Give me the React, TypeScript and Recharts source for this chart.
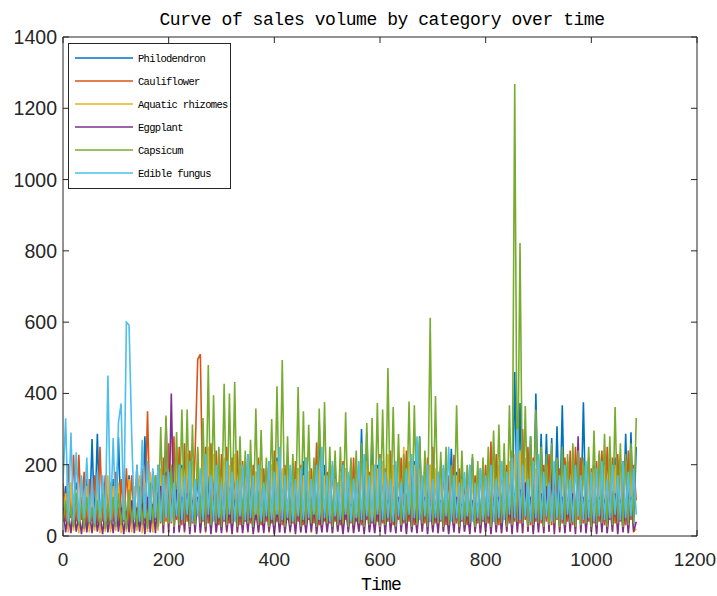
import React from "react";
import { LineChart, Line, XAxis, YAxis } from "recharts";

// one sample every 5 days, t = 0 .. 1085
const STEP = 5;

const philodendron = [
  60, 140, 20, 120, 30, 150, 25, 110, 20, 160, 30, 272, 25, 287, 25, 150, 30, 140, 20, 160,
  30, 277, 25, 150, 30, 170, 20, 140, 25, 160, 35, 280, 25, 150, 30, 170, 20, 140, 30, 180,
  25, 190, 30, 160, 20, 200, 35, 170, 25, 210, 30, 180, 25, 200, 30, 170, 20, 190, 30, 160,
  25, 210, 30, 180, 20, 190, 35, 170, 25, 200, 30, 160, 20, 180, 30, 170, 25, 190, 30, 200,
  25, 220, 30, 180, 20, 200, 35, 170, 25, 190, 30, 210, 20, 180, 30, 170, 25, 320, 30, 200,
  25, 180, 30, 200, 20, 170, 35, 190, 25, 210, 30, 180, 20, 300, 30, 290, 25, 290, 30, 200,
  30, 190, 25, 210, 30, 180, 20, 200, 35, 170, 25, 190, 30, 210, 20, 280, 30, 190, 25, 200,
  30, 180, 25, 200, 30, 190, 20, 245, 35, 180, 25, 200, 30, 170, 20, 220, 30, 180, 25, 200,
  30, 190, 25, 210, 30, 180, 20, 200, 35, 190, 25, 460, 30, 373, 30, 210, 25, 280, 30, 400,
  30, 287, 25, 287, 30, 275, 20, 308, 30, 367, 25, 210, 30, 190, 20, 200, 35, 375, 25, 220,
  30, 200, 25, 230, 30, 210, 20, 190, 35, 220, 25, 200, 30, 287, 25, 291, 30, 250,
];

const cauliflower = [
  150, 40, 200, 50, 228, 40, 228, 45, 180, 30, 160, 40, 170, 35, 250, 40, 170, 35, 150, 40,
  180, 35, 160, 40, 190, 30, 170, 45, 200, 35, 190, 40, 350, 30, 180, 45, 200, 35, 220, 40,
  260, 35, 280, 45, 250, 30, 260, 40, 240, 35, 230, 495, 510, 40, 250, 35, 260, 45, 240, 30,
  230, 40, 250, 35, 220, 45, 240, 30, 210, 40, 230, 35, 200, 45, 220, 30, 190, 40, 210, 35,
  240, 40, 220, 30, 200, 45, 190, 35, 210, 40, 200, 30, 220, 45, 190, 35, 262, 30, 210, 40,
  180, 35, 200, 40, 150, 30, 210, 45, 170, 35, 220, 40, 160, 30, 210, 45, 180, 35, 200, 40,
  230, 35, 190, 40, 240, 30, 170, 45, 220, 35, 240, 40, 180, 30, 230, 45, 160, 35, 220, 40,
  250, 35, 180, 40, 190, 30, 170, 45, 228, 35, 190, 40, 160, 30, 200, 45, 170, 35, 190, 40,
  200, 35, 265, 40, 230, 30, 210, 45, 200, 35, 240, 40, 280, 35, 300, 45, 250, 30, 220, 40,
  210, 35, 200, 40, 230, 30, 180, 45, 190, 35, 220, 40, 240, 30, 250, 45, 220, 35, 200, 40,
  190, 35, 210, 40, 240, 30, 250, 45, 220, 35, 230, 40, 210, 30, 240, 45, 200, 100,
];

const aquatic = [
  40, 120, 10, 150, 15, 130, 8, 160, 12, 140, 10, 120, 15, 150, 8, 130, 12, 170, 10, 140,
  15, 150, 8, 130, 12, 160, 10, 140, 15, 170, 8, 150, 12, 180, 10, 160, 15, 190, 8, 170,
  12, 200, 10, 220, 15, 190, 8, 230, 12, 210, 10, 240, 15, 220, 8, 250, 12, 230, 10, 210,
  15, 220, 8, 200, 12, 230, 10, 190, 15, 210, 8, 200, 12, 180, 10, 190, 15, 170, 8, 200,
  12, 210, 10, 190, 15, 200, 8, 180, 12, 190, 10, 170, 15, 180, 8, 200, 12, 190, 10, 170,
  15, 180, 8, 160, 12, 170, 10, 190, 15, 180, 8, 200, 12, 190, 10, 210, 15, 200, 8, 190,
  12, 210, 10, 230, 15, 200, 8, 220, 12, 250, 10, 210, 15, 200, 8, 190, 12, 180, 10, 200,
  15, 190, 8, 170, 12, 180, 10, 190, 15, 170, 8, 160, 12, 180, 10, 170, 15, 160, 8, 180,
  12, 190, 10, 210, 15, 200, 8, 190, 12, 210, 10, 230, 15, 240, 8, 220, 12, 200, 10, 190,
  15, 180, 8, 200, 12, 190, 10, 170, 15, 190, 8, 200, 12, 210, 10, 190, 15, 200, 8, 180,
  12, 190, 10, 210, 15, 200, 8, 220, 12, 200, 10, 190, 15, 210, 8, 200, 12, 20,
];

const eggplant = [
  80, 10, 70, 8, 90, 12, 60, 5, 80, 10, 70, 8, 90, 12, 60, 5, 80, 10, 70, 8,
  90, 12, 80, 5, 70, 10, 100, 8, 80, 12, 90, 5, 110, 10, 90, 8, 120, 140, 8, 330,
  10, 400, 8, 130, 10, 110, 12, 120, 5, 100, 10, 110, 8, 90, 12, 100, 5, 90, 10, 80,
  8, 90, 12, 80, 5, 100, 10, 90, 8, 80, 12, 90, 5, 70, 10, 80, 8, 90, 12, 70,
  5, 80, 10, 90, 8, 70, 12, 80, 5, 90, 10, 70, 8, 80, 12, 90, 5, 70, 10, 80,
  10, 80, 8, 90, 12, 70, 5, 80, 10, 90, 8, 70, 12, 80, 5, 90, 10, 70, 8, 80,
  12, 90, 5, 100, 10, 80, 8, 110, 12, 90, 5, 100, 10, 80, 8, 90, 12, 110, 5, 90,
  10, 80, 8, 100, 12, 90, 5, 80, 10, 110, 8, 90, 12, 80, 5, 100, 10, 90, 8, 80,
  12, 100, 5, 90, 10, 110, 8, 90, 12, 100, 5, 120, 10, 130, 8, 150, 12, 110, 5, 100,
  10, 120, 8, 140, 12, 190, 5, 180, 10, 110, 8, 100, 12, 120, 5, 280, 10, 110, 8, 100,
  12, 90, 5, 110, 10, 100, 8, 90, 12, 120, 5, 100, 10, 90, 8, 110, 12, 40,
];

const capsicum = [
  40, 100, 30, 80, 25, 120, 30, 90, 20, 110, 35, 80, 25, 100, 30, 120, 20, 90, 35, 110,
  25, 120, 30, 100, 20, 130, 35, 110, 25, 140, 30, 120, 20, 150, 35, 170, 25, 306, 30, 338,
  35, 200, 25, 292, 30, 355, 35, 355, 25, 313, 30, 250, 35, 331, 25, 480, 30, 395, 35, 250,
  25, 427, 30, 400, 35, 432, 25, 280, 30, 240, 35, 270, 25, 358, 30, 297, 35, 220, 25, 328,
  30, 420, 35, 494, 25, 280, 30, 230, 35, 418, 25, 350, 30, 312, 35, 220, 25, 358, 30, 376,
  35, 250, 25, 240, 30, 250, 35, 347, 25, 220, 30, 240, 35, 260, 25, 317, 30, 331, 35, 373,
  25, 355, 30, 471, 35, 362, 25, 286, 30, 230, 35, 377, 25, 367, 30, 276, 35, 240, 25, 612,
  30, 393, 35, 236, 25, 250, 30, 200, 35, 367, 25, 240, 30, 200, 35, 230, 25, 210, 30, 220,
  35, 250, 25, 296, 30, 313, 35, 260, 25, 367, 30, 1268, 40, 822, 35, 365, 25, 280, 30, 355,
  35, 250, 25, 230, 30, 260, 35, 220, 25, 250, 30, 230, 35, 260, 25, 240, 30, 220, 35, 250,
  25, 296, 30, 240, 35, 287, 25, 280, 30, 362, 35, 260, 25, 230, 30, 260, 35, 331,
];

const fungus = [
  150, 330, 40, 290, 45, 235, 40, 170, 50, 220, 40, 160, 35, 180, 50, 170, 40, 450, 45, 275,
  40, 320, 372, 45, 600, 592, 287, 45, 200, 40, 270, 50, 210, 45, 190, 50, 200, 40, 170, 50,
  180, 40, 150, 55, 200, 45, 170, 60, 210, 40, 160, 55, 190, 45, 230, 60, 170, 40, 200, 50,
  150, 45, 210, 60, 180, 40, 160, 55, 200, 45, 230, 50, 170, 60, 200, 40, 150, 55, 210, 45,
  180, 60, 250, 45, 170, 50, 200, 40, 160, 55, 190, 45, 220, 50, 160, 60, 200, 45, 250, 50,
  170, 40, 210, 55, 150, 45, 200, 60, 180, 40, 160, 50, 210, 45, 230, 55, 170, 40, 200, 60,
  220, 45, 180, 50, 160, 40, 210, 55, 150, 45, 190, 60, 230, 50, 280, 45, 170, 55, 200, 40,
  160, 50, 180, 45, 200, 55, 250, 40, 170, 50, 150, 45, 180, 55, 200, 40, 150, 50, 190, 45,
  170, 55, 200, 40, 160, 50, 210, 45, 180, 60, 220, 50, 300, 45, 200, 55, 160, 40, 210, 50,
  230, 45, 180, 55, 150, 40, 210, 50, 170, 45, 200, 60, 160, 40, 200, 55, 170, 45, 210, 50,
  180, 40, 190, 55, 210, 45, 160, 50, 200, 60, 170, 45, 210, 50, 180, 55, 190, 60,
];

const series = [
  { key: "philodendron", name: "Philodendron", color: "#0072BD", values: philodendron },
  { key: "cauliflower", name: "Cauliflower", color: "#D95319", values: cauliflower },
  { key: "aquatic", name: "Aquatic rhizomes", color: "#EDB120", values: aquatic },
  { key: "eggplant", name: "Eggplant", color: "#7E2F8E", values: eggplant },
  { key: "capsicum", name: "Capsicum", color: "#77AC30", values: capsicum },
  { key: "fungus", name: "Edible fungus", color: "#4DBEEE", values: fungus },
];

const xTicks = [0, 200, 400, 600, 800, 1000, 1200];
const yTicks = [0, 200, 400, 600, 800, 1000, 1200, 1400];

const data = philodendron.map((_, i) => {
  const row: Record<string, number> = { t: i * STEP };
  series.forEach((s) => {
    row[s.key] = s.values[i];
  });
  return row;
});

const AXIS = "#262626";
const SANS = "'Liberation Sans', Arial, sans-serif";
const MONO = "'Liberation Mono', 'DejaVu Sans Mono', monospace";

function BottomTick({ x, y, payload }: any) {
  // the last label sits right at the window edge, nudge it in a touch
  const dx = payload.value === 1200 ? -2 : 0;
  return (
    <g>
      <line x1={x} x2={x} y1={y} y2={y - 6} stroke={AXIS} />
      <text x={x + dx} y={y + 30} textAnchor="middle" fontSize={19} fontFamily={SANS} fill={AXIS}>
        {payload.value}
      </text>
    </g>
  );
}

function TopTick({ x, y }: any) {
  return <line x1={x} x2={x} y1={y} y2={y + 6} stroke={AXIS} />;
}

function LeftTick({ x, y, payload }: any) {
  return (
    <g>
      <line x1={x} x2={x + 6} y1={y} y2={y} stroke={AXIS} />
      <text x={x - 6} y={y + 7} textAnchor="end" fontSize={19.5} fontFamily={SANS} fill={AXIS}>
        {payload.value}
      </text>
    </g>
  );
}

function RightTick({ x, y }: any) {
  return <line x1={x} x2={x - 6} y1={y} y2={y} stroke={AXIS} />;
}

export default function App() {
  return (
    <div style={{ position: "relative", width: 717, height: 596, background: "#fff" }}>
      <style>{"body{margin:0}"}</style>
      <LineChart
        width={717}
        height={596}
        data={data}
        margin={{ top: 36, right: 19, bottom: 30, left: 0 }}
      >
        <XAxis
          dataKey="t"
          type="number"
          domain={[0, 1200]}
          ticks={xTicks}
          allowDataOverflow
          height={30}
          tickSize={0}
          tickMargin={0}
          tick={<BottomTick />}
          axisLine={{ stroke: AXIS }}
          interval={0}
        />
        <XAxis
          xAxisId="top"
          orientation="top"
          dataKey="t"
          type="number"
          domain={[0, 1200]}
          ticks={xTicks}
          allowDataOverflow
          height={1}
          tickSize={0}
          tickMargin={0}
          tick={<TopTick />}
          axisLine={{ stroke: AXIS }}
          interval={0}
        />
        <YAxis
          type="number"
          domain={[0, 1400]}
          ticks={yTicks}
          allowDataOverflow
          width={63}
          tickSize={0}
          tickMargin={0}
          tick={<LeftTick />}
          axisLine={{ stroke: AXIS }}
          interval={0}
        />
        <YAxis
          yAxisId="right"
          orientation="right"
          type="number"
          domain={[0, 1400]}
          ticks={yTicks}
          allowDataOverflow
          width={1}
          tickSize={0}
          tickMargin={0}
          tick={<RightTick />}
          axisLine={{ stroke: AXIS }}
          interval={0}
        />
        {/* invisible copy so the top and right box axes have a series */}
        <Line
          xAxisId="top"
          yAxisId="right"
          dataKey="fungus"
          stroke="none"
          dot={false}
          activeDot={false}
          legendType="none"
          isAnimationActive={false}
        />
        {series.map((s) => (
          <Line
            key={s.key}
            dataKey={s.key}
            name={s.name}
            type="linear"
            stroke={s.color}
            strokeWidth={1.6}
            dot={false}
            activeDot={false}
            isAnimationActive={false}
          />
        ))}
      </LineChart>
      <svg
        width={717}
        height={596}
        style={{ position: "absolute", left: 0, top: 0, pointerEvents: "none" }}
      >
        <text x={382} y={25} textAnchor="middle" fontSize={18} letterSpacing={-0.45} fontFamily={MONO} fill="#000">
          Curve of sales volume by category over time
        </text>
        <text x={381} y={590} textAnchor="middle" fontSize={18} letterSpacing={-0.8} fontFamily={MONO} fill="#000">
          Time
        </text>
        <rect x={68.5} y={43.5} width={162} height={145} fill="#fff" stroke={AXIS} strokeWidth={1} />
        {series.map((s, i) => (
          <g key={s.key}>
            <line x1={75} x2={133} y1={58 + i * 23} y2={58 + i * 23} stroke={s.color} strokeWidth={1.4} />
            <text x={138} y={62 + i * 23} fontSize={10.5} letterSpacing={-0.7} fontFamily={MONO} fill="#000">
              {s.name}
            </text>
          </g>
        ))}
      </svg>
    </div>
  );
}
